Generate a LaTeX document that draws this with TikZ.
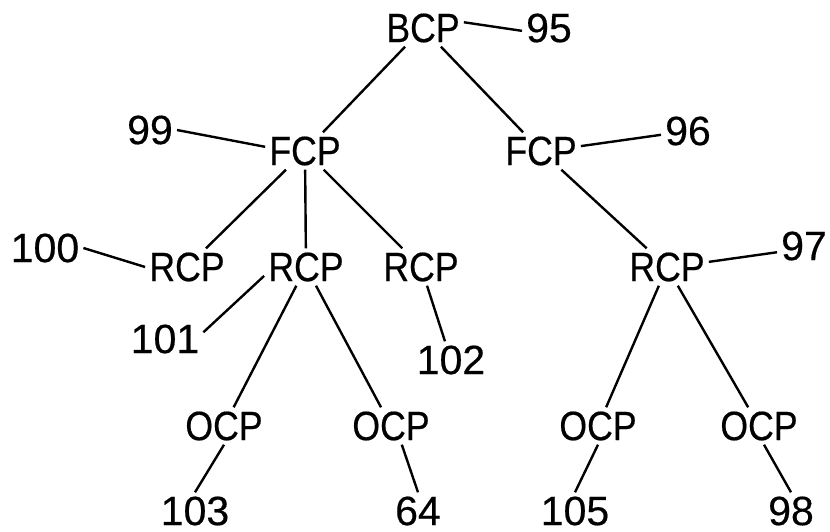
\documentclass[tikz,border=0pt]{standalone}
\usepackage{fontspec}
\setmainfont{Liberation Sans}[FakeBold=0.4]
\newfontfamily\partfont{Liberation Sans}[FakeStretch=0.87, FakeBold=0.4]
\usepackage{tikz}

\begin{document}
\begin{tikzpicture}[x=0.5pt, y=-0.5pt, line width=1.2pt,
    every node/.style={inner sep=1.5pt, font=\fontsize{20.5}{24}\selectfont},
    part/.style={font=\fontsize{20.5}{24}\selectfont\partfont}]
      \useasboundingbox (0,0) rectangle (830,531);
      % tree of parts
      \node[part] (bcp) at (423,28) {BCP};
      \node[part] (fcpa) at (305,151) {FCP};
      \node[part] (fcpb) at (541,151) {FCP};
      \node[part] (rcpa) at (187,267) {RCP};
      \node[part] (rcpb) at (306,267) {RCP};
      \node[part] (rcpc) at (421,267) {RCP};
      \node[part] (rcpd) at (667,267) {RCP};
      \node[part] (ocpa) at (224,426) {OCP};
      \node[part] (ocpb) at (391,426) {OCP};
      \node[part] (ocpc) at (598,426) {OCP};
      \node[part] (ocpd) at (759,426) {OCP};
      % reference numbers
      \node (n95) at (549,28) {95};
      \node (n99) at (150,130) {99};
      \node (n96) at (688,131) {96};
      \node (n100) at (45,248) {100};
      \node (n101) at (165,339) {101};
      \node (n102) at (451,360) {102};
      \node (n97) at (804,246) {97};
      \node (n103) at (195,511) {103};
      \node (n64) at (418,511) {64};
      \node (n105) at (575,511) {105};
      \node (n98) at (791,511) {98};
      \draw (bcp) -- (fcpa);
      \draw (bcp) -- (fcpb);
      \draw (fcpa) -- (rcpa);
      \draw (fcpa) -- (rcpb);
      \draw (fcpa) -- (rcpc);
      \draw (fcpb) -- (rcpd);
      \draw (rcpb) -- (ocpa);
      \draw (rcpb) -- (ocpb);
      \draw (rcpd) -- (ocpc);
      \draw (rcpd) -- (ocpd);
      \draw (bcp.8) -- (n95.186);
      \draw (n99.east) -- (fcpa.174);
      \draw (fcpb.7) -- (n96.188);
      \draw (n100.east) -- (rcpa.west);
      \draw (n101.10) -- (rcpb.192);
      \draw (rcpc) -- (n102);
      \draw (rcpd.7) -- (n97.193);
      \draw (ocpa.south) -- (n103.north);
      \draw (ocpb.-60) -- (n64.north);
      \draw (ocpc.south) -- (n105.north);
      \draw (ocpd.-75) -- (n98.north);
\end{tikzpicture}
\end{document}
